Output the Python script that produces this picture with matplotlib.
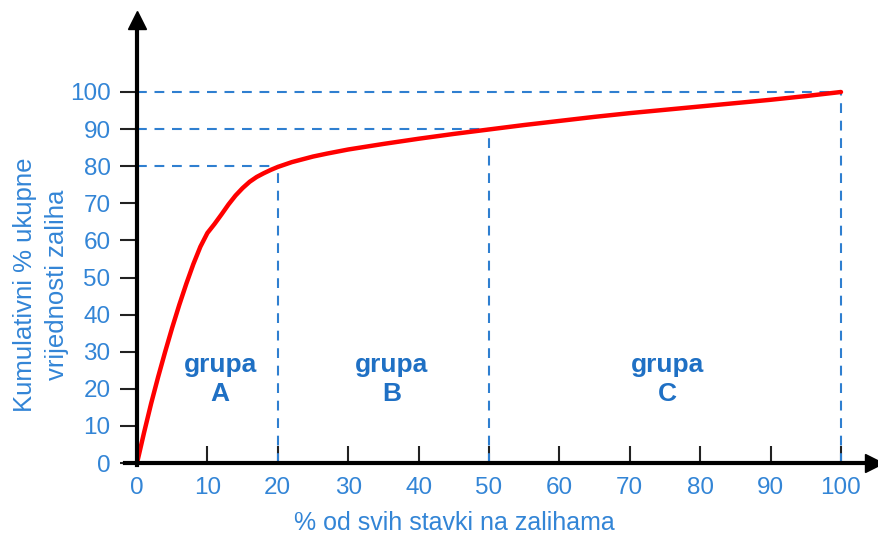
import matplotlib
matplotlib.use("Agg")
import matplotlib.pyplot as plt

# podaci ocitani sa slike
udio_stavki = [0, 1, 2, 3, 4, 5, 6, 7, 8, 9, 10, 11, 12, 13, 14, 15, 16, 17, 18, 19, 20,
               22, 25, 27, 30, 35, 40, 45, 50, 55, 60, 65, 70, 75, 80, 85, 90, 95, 100]
kumulativ = [0, 8.2, 16, 23.2, 30, 36.5, 42.6, 48.3, 53.6, 58.3, 62, 64.4, 67, 69.7, 72.1,
             74.1, 75.8, 77.1, 78.1, 79, 79.8,
             81.1, 82.6, 83.4, 84.5, 86, 87.4, 88.7, 89.9, 91.1, 92.2, 93.3, 94.3, 95.2,
             96.1, 97, 97.9, 98.9, 100]

granice_x = [20, 50, 100]
granice_y = [80, 90, 100]

grupe = ["A", "B", "C"]
grupe_x = [11.8, 36.2, 75.4]
grupe_y = 22.5

xticks = [0, 10, 20, 30, 40, 50, 60, 70, 80, 90, 100]
yticks = [0, 10, 20, 30, 40, 50, 60, 70, 80, 90, 100]

plava = "#3385d6"
plava_tamna = "#1f70c4"
crvena = "#ff0000"

plt.rcParams['font.family'] = ['Liberation Sans', 'DejaVu Sans']

fig = plt.figure(figsize=(8.79, 5.45), dpi=100)
ax = fig.add_axes([0.14221, 0.14697, 0.85210, 0.81633])
ax.set_xlim(-1.705, 104.69)
ax.set_ylim(-0.5, 119.4)

# osi sa strelicama
for s in ["top", "right"]:
    ax.spines[s].set_visible(False)
ax.spines["left"].set_position(("data", 0))
ax.spines["bottom"].set_position(("data", 0))
for s in ["left", "bottom"]:
    ax.spines[s].set_linewidth(3)
    ax.spines[s].set_color("black")
    ax.spines[s].set_zorder(4)
ax.plot(0, 1, marker="^", markersize=13, color="black", transform=ax.get_xaxis_transform(),
        clip_on=False, zorder=5)
ax.plot(1, 0, marker=">", markersize=13, color="black", transform=ax.get_yaxis_transform(),
        clip_on=False, zorder=5)

# isprekidane linije granica
for gx, gy in zip(granice_x, granice_y):
    ax.plot([0, gx], [gy, gy], color="#2f7fd0", lw=1.5, linestyle=(0, (4.7, 3.7)), zorder=2)
    ax.plot([gx, gx], [0, gy], color="#2f7fd0", lw=1.5, linestyle=(0, (4.7, 3.7)), zorder=2)

# krivulja
ax.plot(udio_stavki, kumulativ, color=crvena, lw=3.2, solid_capstyle="round",
        solid_joinstyle="round", zorder=3)

# oznake grupa
for g, gx in zip(grupe, grupe_x):
    ax.text(gx, grupe_y, "grupa\n" + g, ha="center", va="center", fontsize=19,
            fontweight="bold", color=plava_tamna, linespacing=1.3)

ax.set_xticks(xticks)
ax.set_yticks(yticks)
ax.tick_params(axis="x", direction="in", length=12, width=1.5, color="#222222",
               labelsize=17.5, labelcolor=plava, pad=10)
ax.tick_params(axis="y", direction="out", length=12, width=1.5, color="#222222",
               labelsize=17.5, labelcolor=plava, pad=7)

ax.set_xlabel("% od svih stavki na zalihama", fontsize=18, color=plava)
ax.xaxis.set_label_coords(0.44, -0.104)
fig.text(0.0465, 0.477, "Kumulativni % ukupne\nvrijednosti zaliha", rotation=90,
         ha="center", va="center", multialignment="center", fontsize=18.5, color=plava,
         linespacing=1.4)

fig.savefig("out.png", dpi=100)
